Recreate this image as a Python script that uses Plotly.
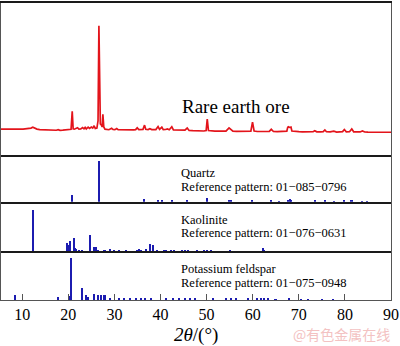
import plotly.graph_objects as go

# ---------------- data ----------------
ore_two_theta = [5.4, 6.0, 6.6, 7.2, 7.8, 8.4, 8.6, 9.0, 9.6, 10.2, 10.8, 11.4, 11.9, 12.3, 12.7,
                 13.2, 13.8, 14.4, 15.0, 15.6, 16.2, 16.8, 17.4, 17.8, 18.2, 18.8, 19.4, 19.8,
                 20.2, 20.6, 20.85, 21.05, 21.3, 21.6, 22.0, 22.3, 22.7, 23.1, 23.4, 23.65, 23.9,
                 24.3, 24.6, 25.0, 25.3, 25.6, 25.85, 26.2, 26.45, 26.64, 26.8, 26.95, 27.15,
                 27.35, 27.5, 27.7, 27.95, 28.3, 28.8, 29.4, 29.7, 30.1, 30.5, 30.8, 31.3, 31.8,
                 32.4, 33.0, 33.6, 34.2, 34.6, 34.95, 35.3, 35.8, 36.2, 36.54, 36.8, 37.3, 37.7,
                 38.1, 38.5, 39.0, 39.47, 39.8, 40.29, 40.6, 41.1, 41.5, 41.9, 42.45, 42.8, 43.4,
                 44.0, 44.6, 45.3, 45.79, 46.2, 47.0, 47.8, 48.6, 49.4, 49.9, 50.14, 50.4, 51.0,
                 51.8, 52.6, 53.4, 54.2, 54.87, 55.3, 55.7, 56.5, 57.3, 58.1, 58.9, 59.6, 59.96,
                 60.3, 61.0, 61.8, 62.4, 62.9, 63.6, 64.03, 64.5, 65.3, 66.0, 66.7, 67.4, 67.6,
                 67.75, 68.0, 68.15, 68.3, 68.5, 69.2, 70.0, 70.8, 71.6, 72.4, 73.1, 73.47, 73.9,
                 74.7, 75.3, 75.66, 76.0, 76.8, 77.6, 78.2, 79.0, 79.5, 79.88, 80.3, 81.0, 81.49,
                 81.9, 82.6, 83.3, 83.8, 84.3, 85.0, 85.8, 86.6, 87.4, 88.2, 89.0, 90.0]
ore_intensity = [1.0, 1.2, 0.8, 1.1, 0.9, 1.0, 1.4, 0.8, 1.0, 0.9, 1.1, 1.3, 2.0, 2.8, 2.0,
                 1.0, 0.6, 0.4, 0.2, 0.1, -0.2, -0.3, -0.1, 0.4, -0.2, 0.0, 0.3, 1.0,
                 0.6, 0.8, 18.1, 1.2, 0.9, 1.4, 2.3, 1.0, 1.2, 2.4, 1.3, 2.6, 1.2,
                 2.8, 1.6, 3.0, 2.0, 4.2, 1.6, 2.0, 9.0, 100.0, 12.0, 6.0, 5.0,
                 3.0, 15.2, 3.0, 1.0, 0.6, 0.4, 1.8, 0.6, 0.5, 1.5, 0.5, 0.4, 0.2,
                 0.3, 0.1, 0.4, 0.2, 0.5, 2.2, 0.6, 0.5, 0.8, 4.8, 0.8, 0.6, 1.4,
                 0.6, 0.8, 0.6, 3.5, 0.7, 2.8, 0.5, 0.6, 1.2, 0.4, 3.2, 0.3, 0.2,
                 0.0, -0.2, 0.0, 2.0, -0.3, -0.5, -0.7, -0.6, -0.8, -0.4, 10.5, -0.4, -0.9,
                 -1.0, -0.9, -1.1, -1.0, 2.2, 0.2, -1.0, -1.2, -1.1, -1.3, -1.2, -1.0, 7.6,
                 -0.8, -1.3, -1.2, -0.8, -1.3, -1.2, 0.8, -1.3, -1.4, -1.2, -1.5, -1.0, 2.8,
                 3.2, 2.6, 3.3, 3.0, -0.8, -1.4, -1.5, -1.6, -1.4, -1.7, -1.5, -0.5, -1.6,
                 -1.7, -1.4, 0.2, -1.5, -1.7, -1.0, -1.8, -1.7, -1.4, 0.6, -1.6, -1.5, 1.2,
                 -1.6, -1.8, -1.7, -0.8, -1.8, -1.9, -1.8, -2.0, -1.9, -2.0, -1.9, -2.0]

quartz_pos = [20.86, 26.64, 36.54, 39.47, 40.29, 42.45, 45.79, 50.14, 54.87, 55.33, 59.96,
              64.03, 65.8, 67.74, 68.14, 68.3, 73.47, 75.66, 77.67, 79.88, 81.49, 83.8, 84.9]
quartz_int = [16, 100, 7, 5, 3, 4, 3, 8, 4, 2, 5, 2, 1, 5, 6, 4, 2, 2, 1, 2.5, 2, 1, 1]

kaolinite_pos = [12.34, 19.86, 20.1, 20.35, 21.24, 21.5, 21.8, 22.4, 23.1, 24.86, 25.6, 26.1,
                 26.5, 27.9, 29.1, 29.9, 31.1, 32.5, 34.9, 35.4, 35.9, 37.0, 37.7, 38.4, 39.3,
                 40.8, 41.2, 42.3, 43.0, 44.8, 45.4, 46.0, 47.0, 48.0, 49.5, 50.2, 51.1, 52.0,
                 53.1, 54.3, 55.1, 55.6, 57.8, 59.8, 61.0, 62.3, 62.6, 63.0, 64.5, 65.8, 67.5,
                 68.3, 69.5, 70.5, 73.0, 74.7, 76.0, 77.3, 78.2, 79.5, 80.2, 81.5, 84.0, 86.5]
kaolinite_int = [100, 20, 15, 26, 33, 10, 7, 3, 2, 41, 12, 12,
                 2, 2, 6, 2, 3, 2, 5, 6, 4, 7, 18, 16, 4,
                 2, 2, 2, 2, 2, 4, 2, 1, 2, 2, 2, 2, 1,
                 1, 1.5, 4, 1, 1.5, 1, 1, 10, 4, 1, 1, 1, 1,
                 1, 1, 1, 1, 1.5, 1, 1, 0.5, 1, 1, 1, 0.5, 0.5]

feldspar_pos = [8.5, 17.8, 20.2, 20.68, 23.05, 23.8, 24.3, 25.6, 26.4, 27.2, 27.9, 29.0,
                31.1, 32.2, 33.5, 34.7, 35.8, 36.7, 38.0, 41.2, 42.7, 44.1, 45.3, 46.5,
                47.5, 51.5, 54.3, 55.3, 56.5, 59.0, 61.0, 61.8, 62.5, 63.3, 65.0, 68.0,
                70.5, 72.0, 75.0, 77.5]
feldspar_int = [12, 7, 10, 100, 28, 12, 7, 14, 12, 12, 12, 3,
                5, 5, 2, 5, 5, 5, 2, 5, 5, 5, 2, 2,
                2, 2, 3, 2, 2, 2, 4, 2, 3, 2, 1, 2,
                1, 1, 1, 1]

x_ticks = [10, 20, 30, 40, 50, 60, 70, 80, 90]
panel_labels = ["Rare earth ore", "Quartz", "Kaolinite", "Potassium feldspar"]
reference_codes = ["01\u2212085\u22120796", "01\u2212076\u22120631", "01\u2212075\u22120948"]

# ---------------- styling ----------------
RED = "#e3141b"
BLUE = "#1c1cb0"
BORDER = "#555555"
SEP = "#1a1a1a"
SERIF = "Liberation Serif, Times New Roman, serif"

W, H = 400, 346
ML, MR, MT, MB = 1, 8, 1, 46
plot_w = W - ML - MR
plot_h = H - MT - MB


def px_x(px):
    return (px - ML) / plot_w


def px_y(py):
    return (H - MB - py) / plot_h


domains = [
    [px_y(154), 1.0],
    [px_y(201), px_y(154)],
    [px_y(251), px_y(201)],
    [0.0, px_y(251)],
]

fig = go.Figure()

fig.add_trace(go.Scatter(x=ore_two_theta, y=ore_intensity, mode="lines",
                         line=dict(color=RED, width=1.7), xaxis="x", yaxis="y",
                         showlegend=False, hoverinfo="skip"))
for i, (pos, inten) in enumerate([(quartz_pos, quartz_int),
                                  (kaolinite_pos, kaolinite_int),
                                  (feldspar_pos, feldspar_int)]):
    fig.add_trace(go.Bar(x=pos, y=inten, width=0.34, marker=dict(color=BLUE, line=dict(width=0)),
                         xaxis=f"x{i + 2}", yaxis=f"y{i + 2}", showlegend=False,
                         hoverinfo="skip"))

x_range = [5.4, 90]
y_ranges = [[-23.8, 121.9], [0, 114.6], [0, 120], [0, 117.5]]

layout = dict(
    width=W, height=H,
    margin=dict(l=ML, r=MR, t=MT, b=MB),
    paper_bgcolor="white", plot_bgcolor="white",
    bargap=0,
)
for i in range(4):
    xa = "xaxis" if i == 0 else f"xaxis{i + 1}"
    ya = "yaxis" if i == 0 else f"yaxis{i + 1}"
    bottom = (i == 3)
    layout[xa] = dict(
        range=x_range, domain=[0, 1], anchor="y" if i == 0 else f"y{i + 1}",
        showline=True, mirror=(i == 0),
        linecolor=BORDER if bottom else SEP, linewidth=1.3 if bottom else 1.8,
        showgrid=False, zeroline=False,
        tickvals=x_ticks if bottom else [],
        ticktext=[str(v) for v in x_ticks] if bottom else [],
        ticks="inside" if bottom else "", ticklen=6, tickwidth=1, tickcolor=BORDER,
        showticklabels=bottom,
        tickfont=dict(family=SERIF, size=16, color="black"),
    )
    if i > 0:
        layout[xa]["matches"] = "x"
    layout[ya] = dict(
        range=y_ranges[i], domain=domains[i], anchor="x" if i == 0 else f"x{i + 1}",
        showline=True, mirror=True, linecolor=BORDER, linewidth=1.3,
        showgrid=False, zeroline=False, showticklabels=False, ticks="",
    )
fig.update_layout(**layout)

annotations = []
annotations.append(dict(text=panel_labels[0], x=px_x(180), y=px_y(105), xref="paper", yref="paper",
                        xanchor="left", yanchor="middle", showarrow=False,
                        font=dict(family=SERIF, size=19, color="black")))
label_rows = [(172, 186), (219, 233), (269, 283)]
for k, (y1, y2) in enumerate(label_rows):
    annotations.append(dict(text=panel_labels[k + 1], x=px_x(179), y=px_y(y1), xref="paper",
                            yref="paper", xanchor="left", yanchor="middle", showarrow=False,
                            font=dict(family=SERIF, size=12.5, color="black")))
    annotations.append(dict(text="Reference pattern: " + reference_codes[k], x=px_x(179),
                            y=px_y(y2), xref="paper", yref="paper", xanchor="left",
                            yanchor="middle", showarrow=False,
                            font=dict(family=SERIF, size=12.5, color="black")))
annotations.append(dict(text="<i>2\u03b8</i>/(\u00b0)", x=px_x(196), y=px_y(335), xref="paper",
                        yref="paper", xanchor="center", yanchor="middle", showarrow=False,
                        font=dict(family=SERIF, size=19, color="black")))
annotations.append(dict(text="@有色金属在线", x=px_x(393), y=px_y(334), xref="paper", yref="paper",
                        xanchor="right", yanchor="middle", showarrow=False,
                        font=dict(family="Noto Sans CJK SC", size=14, color="#f3c2c2")))
fig.update_layout(annotations=annotations)

fig.write_html("out.html")
